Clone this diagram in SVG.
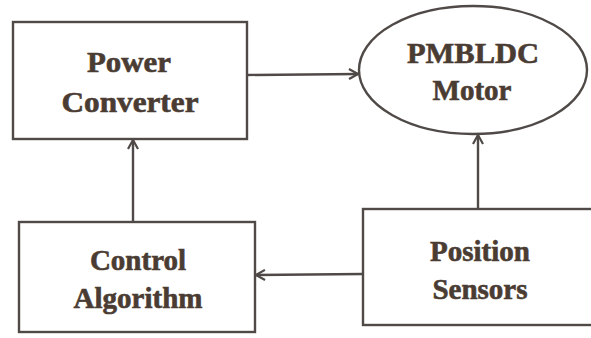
<svg xmlns="http://www.w3.org/2000/svg" width="591" height="338" viewBox="0 0 591 338">
  <style>
    .box { fill: #ffffff; stroke: #4f4a47; stroke-width: 2.4; }
    .lbl { font-family: 'Liberation Serif', serif; font-weight: 700; font-size: 29px; fill: #4a3c33; stroke: #4a3c33; stroke-width: 0.6; text-anchor: middle; }
    .wire { fill: none; stroke: #4f4a47; stroke-width: 2.4; marker-end: url(#chev); }
  </style>
  <defs>
    <marker id="chev" viewBox="0 0 12 12" refX="11" refY="6" markerWidth="12" markerHeight="12" markerUnits="userSpaceOnUse" orient="auto">
      <path d="M2,1 L11,6 L2,11" fill="none" stroke="#4f4a47" stroke-width="2.2"/>
    </marker>
  </defs>
  <rect width="591" height="338" fill="#ffffff"/>

  <g id="power-converter">
    <rect class="box" x="13" y="22" width="234" height="117"/>
    <text class="lbl" x="129" y="72" textLength="84" lengthAdjust="spacingAndGlyphs">Power</text>
    <text class="lbl" x="130" y="112" textLength="137" lengthAdjust="spacingAndGlyphs">Converter</text>
  </g>

  <g id="pmbldc-motor">
    <ellipse class="box" cx="473" cy="70" rx="114" ry="64"/>
    <text class="lbl" x="473" y="63" textLength="132" lengthAdjust="spacingAndGlyphs">PMBLDC</text>
    <text class="lbl" x="472" y="100">Motor</text>
  </g>

  <g id="control-algorithm">
    <rect class="box" x="19" y="222" width="236" height="110"/>
    <text class="lbl" x="138" y="270">Control</text>
    <text class="lbl" x="138" y="308">Algorithm</text>
  </g>

  <g id="position-sensors">
    <rect class="box" x="363" y="209" width="240" height="116"/>
    <text class="lbl" x="480" y="261">Position</text>
    <text class="lbl" x="480" y="299">Sensors</text>
  </g>

  <g id="connectors">
    <line class="wire" x1="247" y1="75" x2="358" y2="74"/>
    <line class="wire" x1="478" y1="209" x2="478" y2="135"/>
    <line class="wire" x1="363" y1="274" x2="256" y2="275"/>
    <line class="wire" x1="133" y1="222" x2="133" y2="140"/>
  </g>
</svg>
